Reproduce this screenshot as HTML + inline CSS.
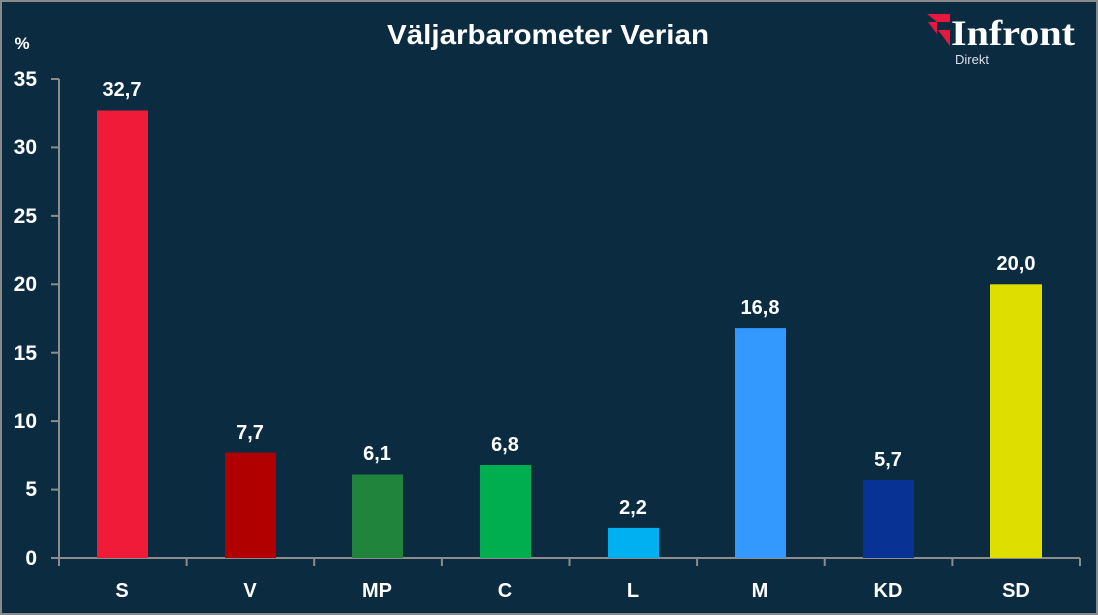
<!DOCTYPE html>
<html><head><meta charset="utf-8"><style>
html,body{margin:0;padding:0;background:#0b2c40;}
svg{display:block;}
text{font-family:"Liberation Sans",sans-serif;fill:#fff;font-weight:bold;}
</style></head><body>
<svg width="1098" height="615" viewBox="0 0 1098 615">
<rect x="0" y="0" width="1098" height="615" fill="#0b2c40"/>
<rect x="1" y="1" width="1096" height="613" fill="none" stroke="#8a8a8a" stroke-width="2"/>
<text x="548" y="44" font-size="28" text-anchor="middle" textLength="322" lengthAdjust="spacingAndGlyphs">Väljarbarometer Verian</text>
<text x="22" y="49" font-size="17" text-anchor="middle">%</text>
<!-- logo -->
<polygon points="927,14 950,14 950,22 937,22" fill="#e8173f"/>
<polygon points="928,22 937,22 937,34" fill="#e8173f"/>
<polygon points="938,30 950,30 950,46" fill="#e8173f"/>
<text x="951" y="45" font-size="36" textLength="124" lengthAdjust="spacingAndGlyphs" style="font-family:'Liberation Serif',serif">Infront</text>
<text x="955" y="64" font-size="13" style="font-weight:normal;fill:#dde">Direkt</text>
<!-- y axis -->
<g stroke="#8c8c8c" stroke-width="2">
<line x1="59" y1="79" x2="59" y2="558"/>
<line x1="51" y1="79" x2="59" y2="79"/>
<line x1="51" y1="147.4" x2="59" y2="147.4"/>
<line x1="51" y1="215.9" x2="59" y2="215.9"/>
<line x1="51" y1="284.3" x2="59" y2="284.3"/>
<line x1="51" y1="352.7" x2="59" y2="352.7"/>
<line x1="51" y1="421.1" x2="59" y2="421.1"/>
<line x1="51" y1="489.6" x2="59" y2="489.6"/>
<line x1="51" y1="558" x2="1080" y2="558"/>
<line x1="59" y1="558" x2="59" y2="566"/>
<line x1="186.6" y1="558" x2="186.6" y2="566"/>
<line x1="314.2" y1="558" x2="314.2" y2="566"/>
<line x1="441.9" y1="558" x2="441.9" y2="566"/>
<line x1="569.5" y1="558" x2="569.5" y2="566"/>
<line x1="697.1" y1="558" x2="697.1" y2="566"/>
<line x1="824.7" y1="558" x2="824.7" y2="566"/>
<line x1="952.4" y1="558" x2="952.4" y2="566"/>
<line x1="1080" y1="558" x2="1080" y2="566"/>
</g>
<g font-size="21">
<text x="37" y="86" text-anchor="end">35</text>
<text x="37" y="154" text-anchor="end">30</text>
<text x="37" y="223" text-anchor="end">25</text>
<text x="37" y="291" text-anchor="end">20</text>
<text x="37" y="360" text-anchor="end">15</text>
<text x="37" y="428" text-anchor="end">10</text>
<text x="37" y="496" text-anchor="end">5</text>
<text x="37" y="565" text-anchor="end">0</text>
</g>
<!-- bars -->
<rect x="97" y="110.5" width="51" height="447.5" fill="#ef1b38"/>
<rect x="225" y="452.6" width="51" height="105.4" fill="#b00000"/>
<rect x="352" y="474.5" width="51" height="83.5" fill="#21843d"/>
<rect x="480" y="465" width="51" height="93" fill="#00ad4f"/>
<rect x="608" y="527.9" width="51" height="30.1" fill="#00b0f0"/>
<rect x="735" y="328.1" width="51" height="229.9" fill="#3399ff"/>
<rect x="863" y="480" width="51" height="78" fill="#083293"/>
<rect x="990" y="284.3" width="52" height="273.7" fill="#dede00"/>
<g font-size="20">
<text x="122" y="96" text-anchor="middle">32,7</text>
<text x="250" y="439" text-anchor="middle">7,7</text>
<text x="377" y="460" text-anchor="middle">6,1</text>
<text x="505" y="451" text-anchor="middle">6,8</text>
<text x="633" y="514" text-anchor="middle">2,2</text>
<text x="760" y="314" text-anchor="middle">16,8</text>
<text x="888" y="466" text-anchor="middle">5,7</text>
<text x="1016" y="270" text-anchor="middle">20,0</text>
</g>
<g font-size="20">
<text x="122" y="597" text-anchor="middle">S</text>
<text x="250" y="597" text-anchor="middle">V</text>
<text x="377" y="597" text-anchor="middle">MP</text>
<text x="505" y="597" text-anchor="middle">C</text>
<text x="633" y="597" text-anchor="middle">L</text>
<text x="760" y="597" text-anchor="middle">M</text>
<text x="888" y="597" text-anchor="middle">KD</text>
<text x="1016" y="597" text-anchor="middle">SD</text>
</g>
</svg>
</body></html>
